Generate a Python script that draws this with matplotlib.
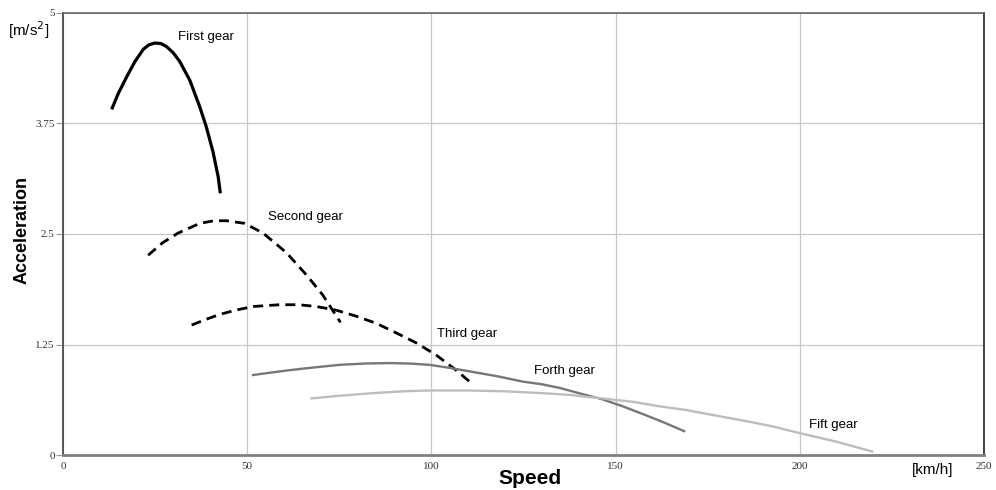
import matplotlib.pyplot as plt
from matplotlib.transforms import ScaledTranslation

# acceleration vs speed for each gear
first_x = [13.2, 15.0, 17.3, 19.5, 21.8, 23.3, 24.9, 26.5, 28.1, 29.9, 31.7, 34.4, 37.1, 38.9, 40.7, 42.1, 42.7]
first_y = [3.91, 4.09, 4.28, 4.45, 4.59, 4.64, 4.66, 4.655, 4.62, 4.55, 4.45, 4.24, 3.94, 3.71, 3.43, 3.15, 2.96]

second_x = [23.1, 27.0, 31.2, 37.1, 41.0, 44.4, 49.3, 54.3, 60.6, 66.0, 70.5, 75.3]
second_y = [2.26, 2.40, 2.51, 2.62, 2.65, 2.65, 2.62, 2.51, 2.29, 2.04, 1.81, 1.50]

third_x = [34.9, 38.5, 42.5, 47.0, 51.6, 58.8, 64.0, 68.7, 74.0, 79.6, 85.0, 90.5, 95.8, 101.3, 106.7, 111.2]
third_y = [1.47, 1.53, 1.59, 1.64, 1.68, 1.70, 1.70, 1.68, 1.64, 1.57, 1.49, 1.38, 1.27, 1.13, 0.96, 0.80]

fourth_x = [51.6, 56.0, 61.5, 68.0, 75.1, 82.0, 88.6, 94.0, 99.5, 105.0, 111.2, 118.0, 124.8,
            130.0, 134.7, 140.0, 146.4, 152.0, 158.2, 163.0, 168.6]
fourth_y = [0.905, 0.93, 0.96, 0.99, 1.02, 1.035, 1.04, 1.035, 1.02, 0.985, 0.94, 0.89, 0.83,
            0.80, 0.76, 0.70, 0.63, 0.55, 0.45, 0.37, 0.27]

fifth_x = [67.4, 75.0, 84.1, 92.0, 99.5, 110.0, 120.2, 130.0, 137.4, 146.4, 155.0, 162.0, 169.0,
           178.0, 187.1, 193.0, 199.7, 210.0, 219.6]
fifth_y = [0.64, 0.67, 0.70, 0.72, 0.73, 0.73, 0.72, 0.70, 0.68, 0.64, 0.60, 0.55, 0.51,
           0.44, 0.37, 0.32, 0.25, 0.15, 0.04]

gear_labels = ["First gear", "Second gear", "Third gear", "Forth gear", "Fift gear"]
label_pos = [(31.2, 4.73), (55.6, 2.69), (101.4, 1.37), (127.9, 0.95), (202.4, 0.34)]

x_ticks = [0, 50, 100, 150, 200, 250]
y_ticks = [0, 1.25, 2.5, 3.75, 5]
y_tick_labels = ["0", "1.25", "2.5", "3.75", "5"]

fig = plt.figure(figsize=(9.96, 4.9), dpi=100)
ax = fig.add_axes([0.0633, 0.0714, 0.9247, 0.9021])

ax.plot(first_x, first_y, color="black", linewidth=2.3, solid_capstyle="butt", solid_joinstyle="round")
ax.plot(second_x, second_y, color="black", linewidth=2.0, dashes=(3.6, 2.2))
ax.plot(third_x, third_y, color="black", linewidth=2.0, dashes=(3.6, 2.2))
ax.plot(fourth_x, fourth_y, color="#777777", linewidth=1.7)
ax.plot(fifth_x, fifth_y, color="#bdbdbd", linewidth=1.7)

for text, (tx, ty) in zip(gear_labels, label_pos):
    ax.text(tx, ty, text, fontsize=9.5, family="Liberation Sans", va="center", ha="left")

ax.set_xlim(0, 250)
ax.set_ylim(0, 5)
ax.set_xticks(x_ticks)
ax.set_yticks(y_ticks)
ax.set_yticklabels(y_tick_labels)
shift = ScaledTranslation(3 / 100, 0, fig.dpi_scale_trans)
for lbl in ax.get_xticklabels():
    lbl.set_transform(lbl.get_transform() + shift)
for lbl in ax.get_xticklabels() + ax.get_yticklabels():
    lbl.set_family("Liberation Serif")
    lbl.set_fontsize(8)
    lbl.set_color("#333333")
ax.tick_params(axis="x", length=0, pad=5)
ax.tick_params(axis="y", length=5, color="#999999", pad=1)
ax.grid(True, color="#c8c8c8", linewidth=0.9)
ax.set_axisbelow(True)

ax.spines["left"].set_color("#555555")
ax.spines["left"].set_linewidth(1.4)
ax.spines["bottom"].set_color("#808080")
ax.spines["bottom"].set_linewidth(2.0)
ax.spines["top"].set_color("#666666")
ax.spines["top"].set_linewidth(1.2)
ax.spines["right"].set_color("#222222")
ax.spines["right"].set_linewidth(1.2)

fig.text(0.022, 0.531, "Acceleration", rotation=90, fontsize=13, fontweight="bold",
         family=["Liberation Sans Narrow", "Liberation Sans"], ha="center", va="center")
fig.text(0.029, 0.939, "[m/s$^2$]", fontsize=11, family="Liberation Sans", ha="center", va="center")
fig.text(0.532, 0.024, "Speed", fontsize=15, fontweight="bold", family="Liberation Sans",
         ha="center", va="center")
fig.text(0.936, 0.041, "[km/h]", fontsize=11, family="Liberation Sans", ha="center", va="center")

fig.savefig("out.png", dpi=100)
